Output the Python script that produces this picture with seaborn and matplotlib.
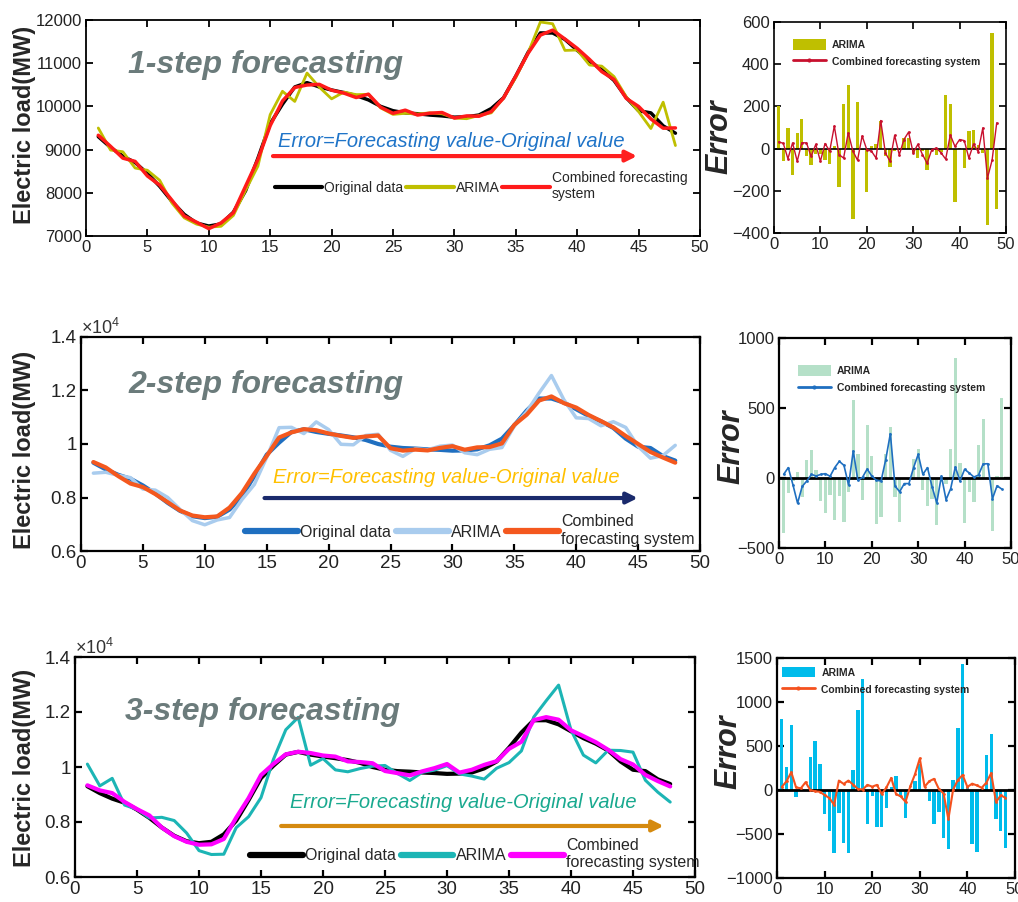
import matplotlib
matplotlib.use('Agg')
import matplotlib.pyplot as plt
import matplotlib.patches as mpatches
from matplotlib.lines import Line2D
from matplotlib.ticker import FuncFormatter
import seaborn as sns

# half-hour index
steps = list(range(1, 49))

original = [9300, 9050, 8850, 8700, 8450, 8150, 7800, 7500, 7300, 7230, 7280, 7550,
            8050, 8800, 9600, 10050, 10450, 10550, 10450, 10380, 10320, 10250, 10150, 10000,
            9900, 9850, 9830, 9800, 9780, 9750, 9760, 9800, 9950, 10200, 10700, 11250,
            11700, 11700, 11550, 11300, 11050, 10850, 10600, 10200, 9900, 9850, 9550, 9380]

# 1-step
arima_1 = [9500, 8990, 8950, 8573, 8522, 8290, 7763, 7420, 7275, 7205, 7225, 7475,
           8060, 8618, 9810, 10350, 10115, 10772, 10445, 10175, 10332, 10272, 10280, 9965,
           9815, 9840, 9825, 9850, 9828, 9730, 9715, 9790, 9850, 10195, 10670, 11235,
           11954, 11913, 11296, 11305, 10958, 10932, 10690, 10219, 9880, 9488, 10098, 9094]
combined_1 = [9332, 9075, 8802, 8727, 8390, 8178, 7827, 7463, 7320, 7170, 7304, 7538,
              8157, 8772, 9555, 10125, 10438, 10495, 10510, 10375, 10308, 10205, 10283, 9980,
              9840, 9913, 9800, 9843, 9858, 9730, 9780, 9772, 9880, 10195, 10703, 11230,
              11650, 11765, 11560, 11343, 11088, 10805, 10622, 10185, 9998, 9710, 9495, 9502]
err_arima_1 = [200, -60, 100, -127, 72, 140, -37, -80, -25, -25, -55, -75,
               10, -182, 210, 300, -335, 222, -5, -205, 12, 22, 130, -35,
               -85, -10, -5, 50, 48, -20, -45, -10, -100, -5, -30, -15,
               254, 213, -254, 5, -92, 82, 90, 19, -20, -362, 548, -286]
err_comb_1 = [32, 25, -48, 27, -60, 28, 27, -37, 20, -60, 24, -12,
              107, -28, -45, 75, -12, -55, 60, -5, -12, -45, 133, -20,
              -60, 63, -30, 43, 78, -20, 20, -28, -70, -5, 3, -20,
              -50, 65, 10, 43, 38, -45, 22, -15, 98, -140, -55, 122]

# 2-step
arima_2 = [8910, 8943, 8830, 8743, 8315, 8276, 8002, 7555, 7135, 6980, 7160, 7253,
           7922, 8485, 9502, 10610, 10624, 10390, 10826, 10540, 9989, 9970, 10320, 10364,
           9764, 9536, 9820, 9785, 9918, 9960, 9672, 9600, 9802, 9867, 10675, 11205,
           11907, 12560, 11660, 10979, 10952, 10681, 10833, 10620, 9910, 9470, 9565, 9950]
combined_2 = [9326, 9124, 8802, 8520, 8390, 8129, 7826, 7514, 7326, 7261, 7292, 7624,
              8169, 8890, 9550, 10243, 10433, 10555, 10514, 10394, 10303, 10229, 10281, 10317,
              9843, 9752, 9790, 9760, 9854, 9919, 9786, 9874, 9886, 10022, 10714, 11095,
              11624, 11779, 11529, 11362, 11086, 10857, 10621, 10300, 10002, 9702, 9495, 9301]
err_arima_2 = [-390, -107, -20, 43, -135, 126, 202, 55, -165, -250, -120, -297,
               -128, -315, -98, 560, 174, -160, 376, 160, -331, -280, 170, 364,
               -136, -314, -10, -15, 138, 210, -88, -200, -148, -333, -25, -45,
               207, 860, 110, -321, -98, -169, 233, 420, 10, -380, 15, 570]
err_comb_2 = [26, 74, -48, -180, -60, -21, 26, 14, 26, 31, 12, 74,
              119, 90, -50, 193, -17, 5, 64, 14, -17, -21, 131, 317,
              -57, -98, -40, -40, 74, 169, 26, 74, -64, -178, 14, -155,
              -76, 79, -21, 62, 36, 7, 21, 100, 102, -148, -55, -79]

# 3-step
arima_3 = [10105, 9313, 9587, 8616, 8460, 8145, 8170, 8053, 7601, 6959, 6818, 6829,
           7794, 8193, 8886, 10275, 11355, 11806, 10065, 10307, 9896, 9826, 9944, 10030,
           10055, 9765, 9510, 9805, 9887, 10050, 9750, 9670, 9560, 9955, 10160, 10585,
           11818, 12410, 12978, 11345, 10432, 10150, 10610, 10600, 10540, 9518, 9085, 8725]
combined_3 = [9334, 9150, 9052, 8730, 8469, 8238, 7800, 7485, 7280, 7173, 7188, 7382,
              8157, 8869, 9707, 10111, 10461, 10555, 10508, 10418, 10378, 10204, 10180, 10137,
              9854, 9777, 9696, 9842, 9960, 10109, 9797, 9900, 10077, 10212, 10660, 10918,
              11705, 11814, 11720, 11335, 11122, 10902, 10625, 10285, 10092, 9713, 9488, 9293]
err_arima_3 = [805, 263, 737, -84, 10, -5, 370, 553, 301, -271, -462, -721,
               -256, -607, -714, 225, 905, 1256, -385, -73, -424, -424, -206, 30,
               155, -85, -320, 5, 107, 300, -10, -130, -390, -245, -540, -665,
               118, 710, 1428, 45, -618, -700, 10, 400, 640, -332, -465, -655]
err_comb_3 = [34, 100, 202, 30, 19, 88, 0, -15, -20, -57, -92, -168,
              107, 69, 107, 61, 11, 5, 58, 38, 58, -46, 30, 137,
              -46, -73, -134, 42, 180, 359, 37, 100, 127, 12, -40, -332,
              5, 114, 170, 35, 72, 52, 25, 85, 192, -137, -62, -87]

sns.set_style('ticks')
ARIAL = ['Liberation Sans', 'DejaVu Sans']
plt.rcParams['font.family'] = ARIAL
plt.rcParams['mathtext.fontset'] = 'custom'
plt.rcParams['mathtext.rm'] = 'Liberation Sans'

fig = plt.figure(figsize=(10.18, 9.02), dpi=100)
W, H = 1018, 902


def px_axes(x0, y0, x1, y1):
    return fig.add_axes([x0 / W, (H - y1) / H, (x1 - x0) / W, (y1 - y0) / H])


def style_axes(ax, lw, fs):
    for s in ax.spines.values():
        s.set_visible(True)
        s.set_linewidth(lw)
        s.set_color('black')
    ax.tick_params(direction='in', top=True, right=True, length=5, width=lw,
                   labelsize=fs, pad=3, colors='black')
    for lab in ax.get_xticklabels() + ax.get_yticklabels():
        lab.set_color('#222222')


def main_panel(rect, arima, combined, cols, lws, title, title_xy, note_color, note_xy,
               arrow_color, arrow_x, arrow_y, ylim, yticks, sci, comb_label, leg_xy, leg_kw,
               leg_lw, note_fs, spine_lw, tick_fs):
    ax = px_axes(*rect)
    sns.lineplot(x=steps, y=original, ax=ax, color=cols[0], lw=lws[0], label='Original data')
    sns.lineplot(x=steps, y=arima, ax=ax, color=cols[1], lw=lws[1], label='ARIMA')
    sns.lineplot(x=steps, y=combined, ax=ax, color=cols[2], lw=lws[2], label=comb_label)
    ax.set_xlim(0, 50)
    ax.set_ylim(*ylim)
    ax.set_xticks(range(0, 51, 5))
    ax.set_yticks(yticks)
    ax.set_xlabel('')
    ax.set_ylabel('')
    if sci:
        ax.yaxis.set_major_formatter(FuncFormatter(lambda v, p: f'{v / 1e4:g}'))
        ax.text(0.0, 0.995, r'$\times10^4$', transform=ax.transAxes, fontsize=13,
                ha='left', va='bottom', color='#333333')
    style_axes(ax, spine_lw, tick_fs)
    ax.text(title_xy[0], title_xy[1], title, ha='left', va='center', fontsize=23,
            fontweight='bold', style='italic', color='#6B7B7B')
    ax.text(note_xy[0], note_xy[1], 'Error=Forecasting value-Original value', ha='left',
            va='center', style='italic', color=note_color, fontsize=note_fs)
    ax.annotate('', xy=(arrow_x[1], arrow_y), xytext=(arrow_x[0], arrow_y),
                arrowprops=dict(arrowstyle='-|>', color=arrow_color, lw=3, mutation_scale=16))
    leg = ax.legend(loc='lower left', bbox_to_anchor=leg_xy, ncol=3, frameon=False,
                    handletextpad=0.15, borderpad=0, borderaxespad=0, **leg_kw)
    for h in leg.get_lines():
        h.set_linewidth(leg_lw)
    return ax


def error_panel(rect, err_arima, err_comb, bar_color, line_color, line_lw, ylim, yticks,
                zero_lw, spine_lw, leg_xy):
    ax = px_axes(*rect)
    ax.bar(steps, err_arima, width=0.7, color=bar_color, edgecolor='none', linewidth=0,
           zorder=2)
    ax.axhline(0, color='black', lw=zero_lw, zorder=3)
    sns.lineplot(x=steps, y=err_comb, ax=ax, color=line_color, lw=line_lw, marker='.',
                 markersize=4, markeredgewidth=0, zorder=4)
    ax.set_xlim(0, 50)
    ax.set_ylim(*ylim)
    ax.set_xticks(range(0, 51, 10))
    ax.set_yticks(yticks)
    ax.set_xlabel('')
    ax.set_ylabel('')
    style_axes(ax, spine_lw, 12)
    handles = [mpatches.Patch(facecolor=bar_color, edgecolor='none', label='ARIMA'),
               Line2D([], [], color=line_color, lw=2, marker='.', markersize=4,
                      label='Combined forecasting system')]
    ax.legend(handles=handles, loc='upper left', bbox_to_anchor=leg_xy, frameon=False,
              prop={'size': 7.5, 'weight': 'bold'},
              handlelength=3.2, handleheight=1.2, handletextpad=0.6, labelspacing=0.6,
              borderpad=0, borderaxespad=0)
    return ax


# row 1
main_panel((86, 20, 700, 236), arima_1, combined_1, ['black', '#BFBF00', '#FF1A1A'],
           [2.5, 2.0, 2.5], '1-step forecasting', (3.4, 10960), '#1F74C8', (15.6, 9176),
           '#FF1F1F', (15.0, 45.1), 8850, (7000, 12000), range(7000, 12001, 1000), False,
           'Combined forecasting\nsystem', (0.308, 0.16),
           dict(fontsize=10, handlelength=3.4, columnspacing=0.2), 3.0,
           14.5, 1.3, 12)
error_panel((774, 22, 1006, 233), err_arima_1, err_comb_1, '#BFBF00', '#C8102E', 1.0,
            (-400, 600), range(-400, 601, 200), 1.2, 1.2, (0.08, 0.92))

# row 2
main_panel((81, 337, 700, 551), arima_2, combined_2, ['#1F6FC0', '#A9CCEE', '#F4581E'],
           [3.0, 2.5, 3.0], '2-step forecasting', (3.8, 12200), '#FFC000', (15.5, 8766),
           '#1A2A6C', (14.6, 45.2), 7980, (6000, 14000), range(6000, 14001, 2000), True,
           'Combined\nforecasting system', (0.265, 0.02),
           dict(fontsize=11.5, handlelength=3.3, columnspacing=0.3), 4.5,
           14.5, 1.6, 13.5)
error_panel((779, 338, 1011, 548), err_arima_2, err_comb_2, '#B5E0C8', '#1F6FC0', 1.2,
            (-500, 1000), range(-500, 1001, 500), 2.0, 1.6, (0.08, 0.87))

# row 3
main_panel((75, 657, 695, 877), arima_3, combined_3, ['black', '#1CB5B5', '#FF00FF'],
           [3.0, 2.2, 3.0], '3-step forecasting', (4.0, 12000), '#19A98F', (17.3, 8727),
           '#D58A0F', (16.4, 47.7), 7855, (6000, 14000), range(6000, 14001, 2000), True,
           'Combined\nforecasting system', (0.282, 0.03),
           dict(fontsize=11.5, handlelength=3.3, columnspacing=0.3), 4.5,
           14.5, 1.6, 13.5)
error_panel((777, 658, 1015, 878), err_arima_3, err_comb_3, '#00BCEB', '#F4511E', 1.5,
            (-1000, 1500), range(-1000, 1501, 500), 2.0, 1.6, (0.02, 0.96))

# axis titles
for yc in (125, 450, 768):
    fig.text(25 / W, 1 - yc / H, 'Electric load(MW)', rotation=90, ha='center', va='center',
             fontsize=17, fontweight='bold')
for xc, yc in ((719, 137), (731, 447), (728, 752)):
    fig.text(xc / W, 1 - yc / H, 'Error', rotation=90, ha='center', va='center',
             fontsize=22, fontweight='bold', style='italic')

fig.savefig('out.png', dpi=100)
